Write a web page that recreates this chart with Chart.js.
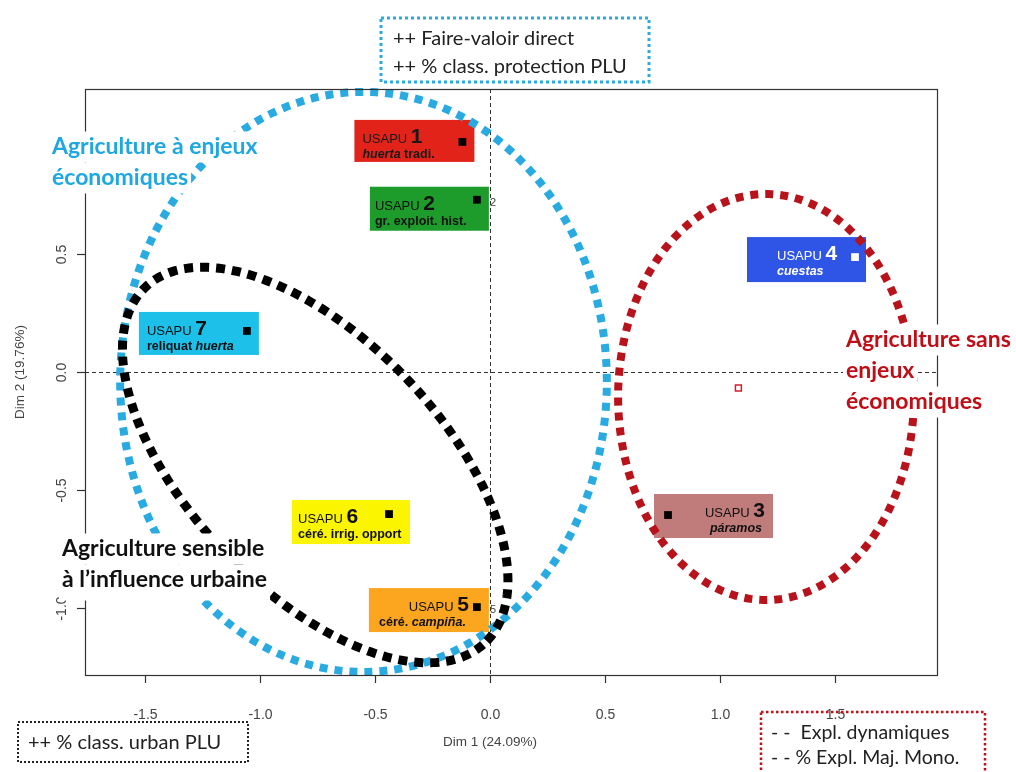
<!DOCTYPE html>
<html>
<head>
<meta charset="utf-8">
<script src="https://cdn.jsdelivr.net/npm/chart.js@4.4.0/dist/chart.umd.min.js"></script>
<style>
  html, body { margin: 0; padding: 0; background: #fff; overflow: hidden; }
  canvas { display: block; }
</style>
</head>
<body>
<canvas id="cv" width="1016" height="772"></canvas>
<script>
// USAPU on the first factorial plane (Dim 1 / Dim 2)
const usapuIds  = ['1', '2', '3', '4', '5', '6', '7'];
const usapuSub  = ['*huerta* tradi.', 'gr. exploit. hist.', '*páramos*', '*cuestas*',
                   'céré. *campiña.*', 'céré. irrig. opport', 'reliquat *huerta*'];
const dim1      = [-0.12, -0.057, 0.774, 1.587, -0.057, -0.439, -1.057];
const dim2      = [0.975, 0.73, -0.606, 0.487, -0.996, -0.602, 0.174];
const pointTags = ['', '2', '', '', '5', '', ''];
const centroid  = [1.08, -0.068];

const xTicks = [-1.5, -1.0, -0.5, 0.0, 0.5, 1.0, 1.5];
const yTicks = [-1.0, -0.5, 0.0, 0.5];

// confidence ellipses of the three groups (Dim units, rotation in degrees)
const grpCx  = [-0.55, -0.76, 1.2];
const grpCy  = [-0.042, -0.394, -0.106];
const grpA   = [1.058, 1.055, 0.643];
const grpB   = [1.229, 0.54, 0.86];
const grpRot = [0, -45, 0];

// ---- styles / layout ----
const FONT = "'Liberation Sans', Arial, sans-serif";
const CAL  = "Lato, 'Open Sans', sans-serif";
const boxFill  = ['#e2231a', '#1d9c2c', '#c07b7b', '#2f55e6', '#fca61f', '#fcf500', '#1cc0e8'];
const boxInk   = ['#1a1a1a', '#111', '#111', '#fff', '#111', '#111', '#111'];
// [left, top, width, height] relative to the point
const boxGeom  = [[-108, -22, 120, 42], [-107, -13, 119, 44], [-14, -21, 119, 44], [-108, -20, 119, 45],
                  [-108, -19, 120, 44], [-97, -14, 118, 44], [-108, -19, 120, 43]];
const boxAlign = ['left', 'left', 'right', 'left', 'right', 'left', 'left'];
const boxPad   = [8, 5, 8, 30, 20, 6, 8];
const ellColor = ['#29abe2', '#000000', '#b8121b'];
const ellWidth = [8, 9, 8];
const ellDash  = [[8, 7], [9, 7], [8, 7]];

function richWidth(ctx, segs) {
  let w = 0;
  segs.forEach(s => { ctx.font = s.font; w += ctx.measureText(s.text).width; });
  return w;
}
function drawRich(ctx, segs, x, yb, align, color) {
  let cx = align === 'right' ? x - richWidth(ctx, segs) : x;
  ctx.fillStyle = color; ctx.textAlign = 'left'; ctx.textBaseline = 'alphabetic';
  segs.forEach(s => { ctx.font = s.font; ctx.fillText(s.text, cx, yb); cx += ctx.measureText(s.text).width; });
}

// multi-line title on a white backing (hides frame / ellipse behind it)
function textBlock(ctx, lines, x, yc, font, color, lh, extraBottom) {
  ctx.font = font; ctx.textAlign = 'left'; ctx.textBaseline = 'middle';
  lines.forEach((t, i) => {
    const w = ctx.measureText(t).width, yy = yc + i * lh;
    const last = i === lines.length - 1;
    ctx.fillStyle = '#fff';
    ctx.fillRect(x - 3, yy - lh / 2, w + 6, lh + (last ? (extraBottom || 0) : 0));
  });
  lines.forEach((t, i) => { ctx.fillStyle = color; ctx.fillText(t, x, yc + i * lh); });
}

function dottedRect(ctx, x, y, w, h, color, lw, dash) {
  ctx.save();
  ctx.strokeStyle = color; ctx.lineWidth = lw; ctx.setLineDash(dash);
  ctx.strokeRect(x, y, w, h);
  ctx.restore();
}

const usapuPlot = {
  id: 'usapuPlot',
  beforeDatasetsDraw(chart) {
    const { ctx, chartArea: a, scales: { x, y } } = chart;
    ctx.save();

    // zero lines
    ctx.strokeStyle = '#333'; ctx.lineWidth = 1; ctx.setLineDash([4, 3]);
    const x0 = Math.round(x.getPixelForValue(0)) + 0.5, y0 = Math.round(y.getPixelForValue(0)) + 0.5;
    ctx.beginPath(); ctx.moveTo(a.left, y0); ctx.lineTo(a.right, y0); ctx.stroke();
    ctx.beginPath(); ctx.moveTo(x0, a.top); ctx.lineTo(x0, a.bottom); ctx.stroke();
    ctx.setLineDash([]);

    // USAPU label boxes
    usapuIds.forEach((id, i) => {
      const px = x.getPixelForValue(dim1[i]), py = y.getPixelForValue(dim2[i]);
      const g = boxGeom[i];
      const bl = px + g[0], bt = py + g[1];
      ctx.fillStyle = boxFill[i];
      ctx.fillRect(bl, bt, g[2], g[3]);
      const tx = boxAlign[i] === 'right' ? bl + g[2] - boxPad[i] : bl + boxPad[i];
      drawRich(ctx, [{ text: 'USAPU ', font: '13px ' + FONT }, { text: id, font: 'bold 21px ' + FONT }],
               tx, bt + 23, boxAlign[i], boxInk[i]);
      const segs = usapuSub[i].split('*').map((t, k) => ({ text: t, font: (k % 2 ? 'italic bold ' : 'bold ') + '12.5px ' + FONT }))
                              .filter(s => s.text.length);
      drawRich(ctx, segs, boxAlign[i] === 'right' ? tx - 3 : tx, bt + 38, boxAlign[i], boxInk[i]);
    });

    // group ellipses
    grpCx.forEach((cx, k) => {
      const th = grpRot[k] * Math.PI / 180;
      ctx.strokeStyle = ellColor[k]; ctx.lineWidth = ellWidth[k]; ctx.setLineDash(ellDash[k]);
      ctx.lineCap = 'butt';
      ctx.beginPath();
      for (let s = 0; s <= 360; s++) {
        const t = s * Math.PI / 180;
        const ex = cx + grpA[k] * Math.cos(t) * Math.cos(th) - grpB[k] * Math.sin(t) * Math.sin(th);
        const ey = grpCy[k] + grpA[k] * Math.cos(t) * Math.sin(th) + grpB[k] * Math.sin(t) * Math.cos(th);
        const X = x.getPixelForValue(ex), Y = y.getPixelForValue(ey);
        s ? ctx.lineTo(X, Y) : ctx.moveTo(X, Y);
      }
      ctx.closePath(); ctx.stroke();
    });
    ctx.setLineDash([]);

    // frame + axes (R style)
    ctx.strokeStyle = '#333'; ctx.lineWidth = 1.2;
    ctx.strokeRect(a.left + 0.5, a.top + 0.5, a.right - a.left, a.bottom - a.top);
    ctx.fillStyle = '#444'; ctx.font = '14px ' + FONT;
    ctx.textAlign = 'center'; ctx.textBaseline = 'middle';
    xTicks.forEach(v => {
      const px = Math.round(x.getPixelForValue(v)) + 0.5;
      ctx.beginPath(); ctx.moveTo(px, a.bottom); ctx.lineTo(px, a.bottom + 8); ctx.stroke();
      ctx.fillText(v.toFixed(1), px, a.bottom + 40);
    });
    yTicks.forEach(v => {
      const py = Math.round(y.getPixelForValue(v)) + 0.5;
      ctx.beginPath(); ctx.moveTo(a.left, py); ctx.lineTo(a.left - 8, py); ctx.stroke();
      ctx.save(); ctx.translate(a.left - 23, py); ctx.rotate(-Math.PI / 2);
      ctx.fillText(v.toFixed(1), 0, 0); ctx.restore();
    });
    ctx.font = '13.5px ' + FONT;
    ctx.fillText('Dim 1 (24.09%)', x.getPixelForValue(0), a.bottom + 67);
    ctx.save(); ctx.translate(20, y.getPixelForValue(0)); ctx.rotate(-Math.PI / 2);
    ctx.fillText('Dim 2 (19.76%)', 0, 0); ctx.restore();

    // small point tags
    ctx.font = '11px ' + FONT; ctx.fillStyle = '#444'; ctx.textAlign = 'left';
    pointTags.forEach((t, i) => {
      if (t) ctx.fillText(t, x.getPixelForValue(dim1[i]) + 13, y.getPixelForValue(dim2[i]) + 3);
    });

    // group titles
    textBlock(ctx, ['Agriculture à enjeux', 'économiques'], 52, 147, 'bold 23px ' + CAL, '#1ea7e1', 31);
    textBlock(ctx, ['Agriculture sensible', 'à l’influence urbaine'], 62, 549, 'bold 23px ' + CAL, '#111', 31, 5);
    textBlock(ctx, ['Agriculture sans', 'enjeux', 'économiques'], 846, 340, 'bold 23px ' + CAL, '#c00d16', 31);

    // variable boxes
    dottedRect(ctx, 381, 18, 268, 64, '#29abe2', 3, [3, 3]);
    ctx.font = '20px ' + CAL; ctx.fillStyle = '#222'; ctx.textAlign = 'left'; ctx.textBaseline = 'middle';
    ctx.fillText('++ Faire-valoir direct', 393, 39);
    ctx.fillText('++ % class. protection PLU', 393, 67);
    dottedRect(ctx, 18, 722, 230, 40, '#222', 2, [2, 2]);
    ctx.fillText('++ % class. urban PLU', 28, 743);
    dottedRect(ctx, 761, 712, 224, 70, '#c0111a', 2.5, [2.5, 2.5]);
    ctx.font = '19.5px ' + CAL;
    ctx.fillText('- -  Expl. dynamiques', 771, 733);
    ctx.fillText('- - % Expl. Maj. Mono.', 771, 758);

    ctx.restore();
  }
};

const pts = usapuIds.map((id, i) => ({ x: dim1[i], y: dim2[i] }));

new Chart(document.getElementById('cv'), {
  type: 'scatter',
  data: {
    datasets: [
      {
        label: 'USAPU',
        data: pts,
        pointStyle: 'rect',
        pointRadius: 5.5,
        backgroundColor: usapuIds.map((id, i) => i === 3 ? '#ffffff' : '#000000'),
        borderWidth: 0
      },
      {
        label: 'centre',
        data: [{ x: centroid[0], y: centroid[1] }],
        pointStyle: 'rect',
        pointRadius: 4.2,
        backgroundColor: '#fff',
        borderColor: '#d0202a',
        borderWidth: 1.5
      }
    ]
  },
  options: {
    responsive: false,
    animation: false,
    layout: { padding: { left: 85, top: 89, right: 79, bottom: 97 } },
    plugins: { legend: { display: false }, tooltip: { enabled: false } },
    scales: {
      x: { type: 'linear', min: -1.7609, max: 1.9435, display: false },
      y: { type: 'linear', min: -1.2839, max: 1.1992, display: false }
    }
  },
  plugins: [usapuPlot]
});
</script>
</body>
</html>
